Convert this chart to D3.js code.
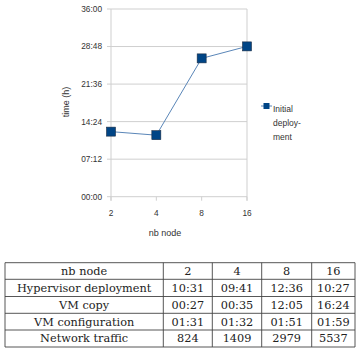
<!DOCTYPE html>
<html><head><meta charset="utf-8">
<script src="https://cdn.jsdelivr.net/npm/d3@7"></script>
<style>body{margin:0;background:#fff}svg{display:block}</style>
</head><body>
<svg id="c" width="357" height="353"></svg>
<script>
const nodes = ["2","4","8","16"];
const totalHours = [12.48, 11.80, 26.53, 28.83];
const yTicks = [0, 7.2, 14.4, 21.6, 28.8, 36];
const yTickLabels = ["00:00","07:12","14:24","21:36","28:48","36:00"];
const seriesName = ["Initial","deploy-","ment"];
const tableHeader = ["nb node","2","4","8","16"];
const rowLabels = ["Hypervisor deployment","VM copy","VM configuration","Network traffic"];
const hypervisor = ["10:31","09:41","12:36","10:27"];
const vmCopy = ["00:27","00:35","12:05","16:24"];
const vmConfig = ["01:31","01:32","01:51","01:59"];
const traffic = ["824","1409","2979","5537"];

const svg = d3.select("#c");
const L=111, R=247, T=9, B=196.7;
const x = d3.scalePoint().domain(nodes).range([L,R]).padding(0);
const y = d3.scaleLinear().domain([0,36]).range([B,T]);
const sans = "Liberation Sans, Arial, sans-serif";

svg.append("g").selectAll("line").data(yTicks).join("line")
  .attr("x1",L-4).attr("x2",R).attr("y1",d=>y(d)).attr("y2",d=>y(d))
  .attr("stroke","#cfcfcf").attr("stroke-width",1);
svg.append("line").attr("x1",L).attr("x2",L).attr("y1",T).attr("y2",B+4).attr("stroke","#cfcfcf");
svg.append("line").attr("x1",R).attr("x2",R).attr("y1",T).attr("y2",B+4).attr("stroke","#cfcfcf");
svg.append("g").selectAll("line").data(nodes).join("line")
  .attr("x1",d=>x(d)).attr("x2",d=>x(d)).attr("y1",B).attr("y2",B+4).attr("stroke","#cfcfcf");
svg.append("g").selectAll("text").data(yTicks).join("text")
  .attr("x",102).attr("y",d=>y(d)).attr("dy","0.35em").attr("text-anchor","end")
  .attr("font-family",sans).attr("font-size",8.3).attr("fill","#333")
  .text((d,i)=>yTickLabels[i]);
svg.append("g").selectAll("text").data(nodes).join("text")
  .attr("x",d=>x(d)).attr("y",213).attr("dy","0.35em").attr("text-anchor","middle")
  .attr("font-family",sans).attr("font-size",8.3).attr("fill","#333").text(d=>d);
svg.append("text").attr("x",165).attr("y",233).attr("dy","0.35em").attr("text-anchor","middle")
  .attr("font-family",sans).attr("font-size",9).attr("fill","#333").text("nb node");
svg.append("text").attr("transform","translate(66,102) rotate(-90)").attr("dy","0.35em")
  .attr("text-anchor","middle").attr("font-family",sans).attr("font-size",9).attr("fill","#333").text("time (h)");

const pts = nodes.map((n,i)=>[x(n), y(totalHours[i])]);
svg.append("path").attr("d",d3.line()(pts)).attr("fill","none").attr("stroke","#5a86b8").attr("stroke-width",1);
svg.append("g").selectAll("rect").data(pts).join("rect")
  .attr("x",d=>d[0]-4.5).attr("y",d=>d[1]-4.5).attr("width",9).attr("height",9)
  .attr("fill","#004586").attr("stroke","#1b2d45").attr("stroke-width",0.6);

svg.append("line").attr("x1",261).attr("x2",272).attr("y1",106).attr("y2",106).attr("stroke","#5a86b8");
svg.append("rect").attr("x",263.5).attr("y",103).attr("width",6).attr("height",6).attr("fill","#004586");
svg.append("g").selectAll("text").data(seriesName).join("text")
  .attr("x",273).attr("y",(d,i)=>109+i*14.2).attr("dy","0.35em")
  .attr("font-family",sans).attr("font-size",8.5).attr("fill","#333").text(d=>d);

const colX = [5,163.3,212.3,261.7,311.7,355];
const rowY = [262.7,279.3,296.5,313.3,330,347];
const rows = [tableHeader,
  [rowLabels[0], ...hypervisor],
  [rowLabels[1], ...vmCopy],
  [rowLabels[2], ...vmConfig],
  [rowLabels[3], ...traffic]];
const tg = svg.append("g");
tg.selectAll("line.h").data(rowY).join("line").attr("class","h")
  .attr("x1",colX[0]).attr("x2",colX[5]).attr("y1",d=>d).attr("y2",d=>d)
  .attr("stroke","#444").attr("stroke-width",0.9);
tg.selectAll("line.v").data(colX).join("line").attr("class","v")
  .attr("x1",d=>d).attr("x2",d=>d).attr("y1",rowY[0]).attr("y2",rowY[5])
  .attr("stroke","#444").attr("stroke-width",0.9);
rows.forEach((r,ri)=>{
  r.forEach((c,ci)=>{
    tg.append("text").attr("x",(colX[ci]+colX[ci+1])/2).attr("y",(rowY[ri]+rowY[ri+1])/2)
      .attr("dy","0.35em").attr("text-anchor","middle")
      .attr("font-family","DejaVu Serif, serif").attr("font-size",11.3).attr("fill","#222").text(c);
  });
});
</script>
</body></html>
